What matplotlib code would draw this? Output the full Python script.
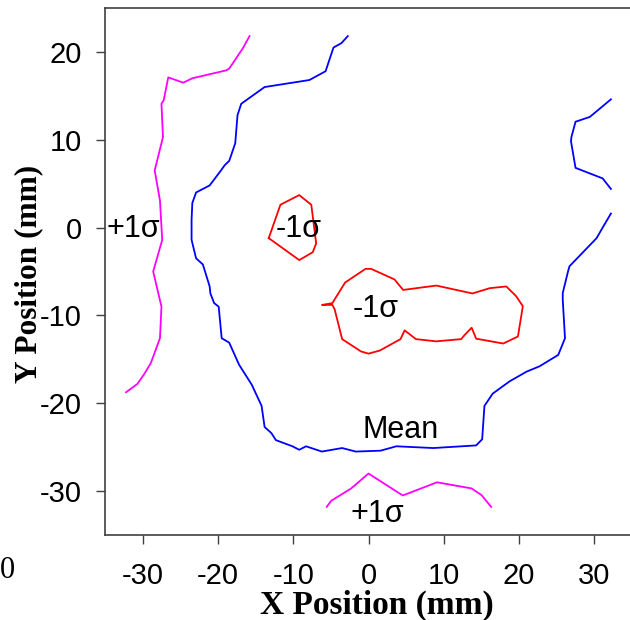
import matplotlib
matplotlib.use("Agg")
import matplotlib.pyplot as plt

# contour paths (x, y in mm)
mean_x = [-2.75, -3.6, -4.65, -5.7, -7.85, -13.8, -16.9, -17.4, -17.7, -18.5, -19.1, -19.6,
          -21.1, -22.9, -23.4, -23.5, -23.5, -22.9, -22.0, -21.1, -21.0, -20.5, -19.9, -19.5,
          -18.5, -17.2, -15.5, -14.2, -13.8, -12.9, -12.3, -10.1, -9.2, -8.3, -6.2, -3.5,
          -1.7, 1.6, 3.7, 8.6, 14.3, 15.1, 15.4, 16.5, 18.75, 21.0, 22.7, 25.2, 26.1, 25.8,
          25.8, 26.5, 26.7, 30.3, 30.9, 32.2]
mean_y = [21.8, 21.0, 20.5, 17.8, 16.8, 16.0, 14.1, 12.8, 9.6, 7.6, 7.1, 6.5,
          4.8, 4.0, 2.8, 0.9, -1.4, -3.5, -4.2, -6.7, -7.5, -8.6, -9.0, -12.6,
          -13.1, -15.6, -17.9, -20.3, -22.7, -23.4, -24.2, -24.9, -25.3, -24.9, -25.5, -25.1,
          -25.5, -25.4, -24.9, -25.1, -24.8, -24.1, -20.3, -18.9, -17.5, -16.4, -15.8, -14.5, -12.6, -8.2,
          -7.45, -5.0, -4.4, -1.2, -0.3, 1.6]

mean_right_x = [32.2, 29.4, 27.5, 26.95, 26.9, 27.5, 31.1, 32.2]
mean_right_y = [14.6, 12.6, 12.05, 10.3, 9.8, 6.8, 5.6, 4.4]

minus_small_x = [-13.25, -11.7, -9.2, -7.6, -6.95, -7.4, -9.2, -13.25]
minus_small_y = [-1.2, 2.6, 3.7, 2.6, -1.8, -2.8, -3.7, -1.2]

minus_big_x = [-6.1, -4.8, -3.1, -0.4, 0.35, 3.45, 4.6, 9.0, 13.8, 16.1, 18.3, 19.6, 20.5,
               19.85, 17.9, 14.3, 13.7, 12.8, 12.3, 9.0, 6.3, 4.8, 4.25, 1.5, 0.0, -1.0,
               -3.5, -4.5, -4.8, -6.1]
minus_big_y = [-8.8, -8.6, -6.25, -4.7, -4.7, -5.9, -7.1, -6.6, -7.5, -6.9, -6.7, -7.8, -8.95,
               -12.4, -13.2, -12.65, -11.4, -12.2, -12.7, -12.95, -12.7, -11.7, -12.7, -14.0, -14.35, -14.1,
               -12.7, -9.3, -8.8, -8.8]

plus_left_x = [-15.8, -16.7, -18.5, -18.9, -23.4, -24.6, -26.6, -27.2, -27.5, -27.3, -28.4,
               -27.7, -27.4, -28.6, -27.5, -27.7, -28.9, -29.8, -30.7, -32.2]
plus_left_y = [21.8, 20.4, 18.1, 17.9, 17.0, 16.5, 17.1, 14.5, 14.1, 10.3, 6.5,
               3.1, -1.4, -5.0, -9.0, -12.6, -15.4, -16.7, -17.8, -18.75]

plus_bottom_x = [-5.55, -4.95, -2.3, 0.0, 4.55, 9.1, 13.7, 15.0, 16.3]
plus_bottom_y = [-31.8, -31.1, -29.7, -28.0, -30.5, -29.0, -29.7, -30.45, -31.8]

x_ticks = [-30, -20, -10, 0, 10, 20, 30]
y_ticks = [-30, -20, -10, 0, 10, 20]

sans = "Liberation Sans"
serif = "Liberation Serif"
plt.rcParams["axes.unicode_minus"] = False

fig = plt.figure(figsize=(6.3, 6.2), dpi=100)
ax = fig.add_axes([105 / 630, 1 - 535 / 620, 527 / 630, 527 / 620])

lw = 1.3
ax.plot(mean_x, mean_y, color="#0000FF", lw=lw)
ax.plot(mean_right_x, mean_right_y, color="#0000FF", lw=lw)
ax.plot(minus_small_x, minus_small_y, color="#FF0000", lw=lw)
ax.plot(minus_big_x, minus_big_y, color="#FF0000", lw=lw)
ax.plot(plus_left_x, plus_left_y, color="#FF00FF", lw=lw)
ax.plot(plus_bottom_x, plus_bottom_y, color="#FF00FF", lw=lw)

fs = 22
ax.text(-34.8, -0.2, "+1σ", fontsize=fs, family=sans, ha="left", va="center")
ax.text(-12.4, -0.2, "-1σ", fontsize=fs, family=sans, ha="left", va="center")
ax.text(1.0, -9.3, "-1σ", fontsize=fs, family=sans, ha="center", va="center")
ax.text(4.3, -23.0, "Mean", fontsize=fs, family=sans, ha="center", va="center")
ax.text(1.2, -32.6, "+1σ", fontsize=fs, family=sans, ha="center", va="center")

ax.set_xlim(-35, 35)
ax.set_ylim(-35, 25)
ax.set_xticks(x_ticks)
ax.set_yticks(y_ticks)
ax.tick_params(direction="out", length=6.5, width=1, color="#404040", labelsize=21)
ax.tick_params(axis="x", pad=13)
ax.tick_params(axis="y", pad=10)
for lab in ax.get_xticklabels() + ax.get_yticklabels():
    lab.set_family(sans)
for s in ax.spines.values():
    s.set_color("#404040")
    s.set_linewidth(1.2)

fig.text(377 / 630, 1 - 605 / 620, "X Position (mm)", fontsize=24, family=serif,
         weight="bold", ha="center", va="center")
fig.text(29 / 630, 1 - 274 / 620, "Y Position (mm)", fontsize=22.5, family=serif,
         weight="bold", ha="center", va="center", rotation=90)
fig.text(0.0, 1 - 571 / 620, "0", fontsize=22, family=serif, ha="left", va="center")

fig.savefig("out.png", dpi=100)
